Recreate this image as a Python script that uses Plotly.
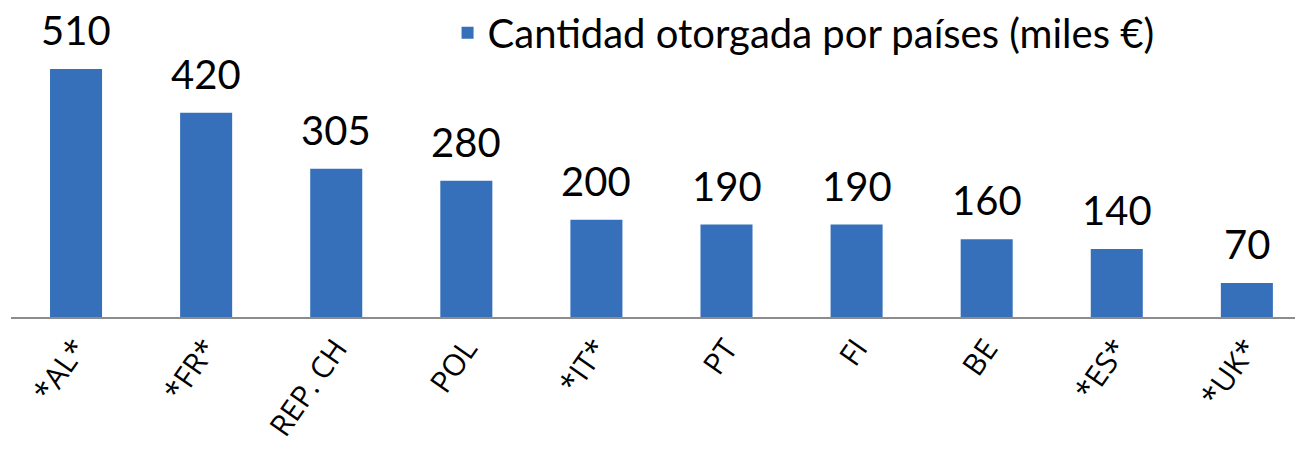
import plotly.graph_objects as go

categories = ["*AL*", "*FR*", "REP. CH", "POL", "*IT*", "PT", "FI", "BE", "*ES*", "*UK*"]
values = [510, 420, 305, 280, 200, 190, 190, 160, 140, 70]
series_name = "Cantidad otorgada por países (miles €)"

FONT = "Lato"

fig = go.Figure()
fig.add_trace(go.Bar(
    x=categories, y=values, name=series_name,
    marker=dict(color="#3670BA", line=dict(width=0)),
))

for c, v in zip(categories, values):
    fig.add_annotation(x=c, y=v, text=str(v), showarrow=False,
                       xanchor="center", yanchor="bottom", yshift=13,
                       font=dict(family=FONT, size=40, color="black"))

fig.update_layout(
    width=1295, height=461,
    margin=dict(l=11, r=0, t=0, b=144),
    paper_bgcolor="white", plot_bgcolor="white",
    bargap=0.6,
    showlegend=True,
    legend=dict(orientation="h", x=0.340, y=0.905, xanchor="left", yanchor="middle",
                font=dict(family=FONT, size=40, color="black"),
                bgcolor="rgba(0,0,0,0)"),
    xaxis=dict(range=[-0.5, 9.37], showline=True, linecolor="#8C8C8C", linewidth=2,
               ticks="", tickangle=-55, showgrid=False, automargin=False,
               tickfont=dict(family="Open Sans", size=30, color="black")),
    yaxis=dict(range=[0, 645.6], visible=False, showgrid=False, zeroline=False,
               automargin=False),
)

fig.write_html("out.html", config={"displayModeBar": False},
               post_script="document.body.style.margin='0';document.body.style.overflow='hidden';")
